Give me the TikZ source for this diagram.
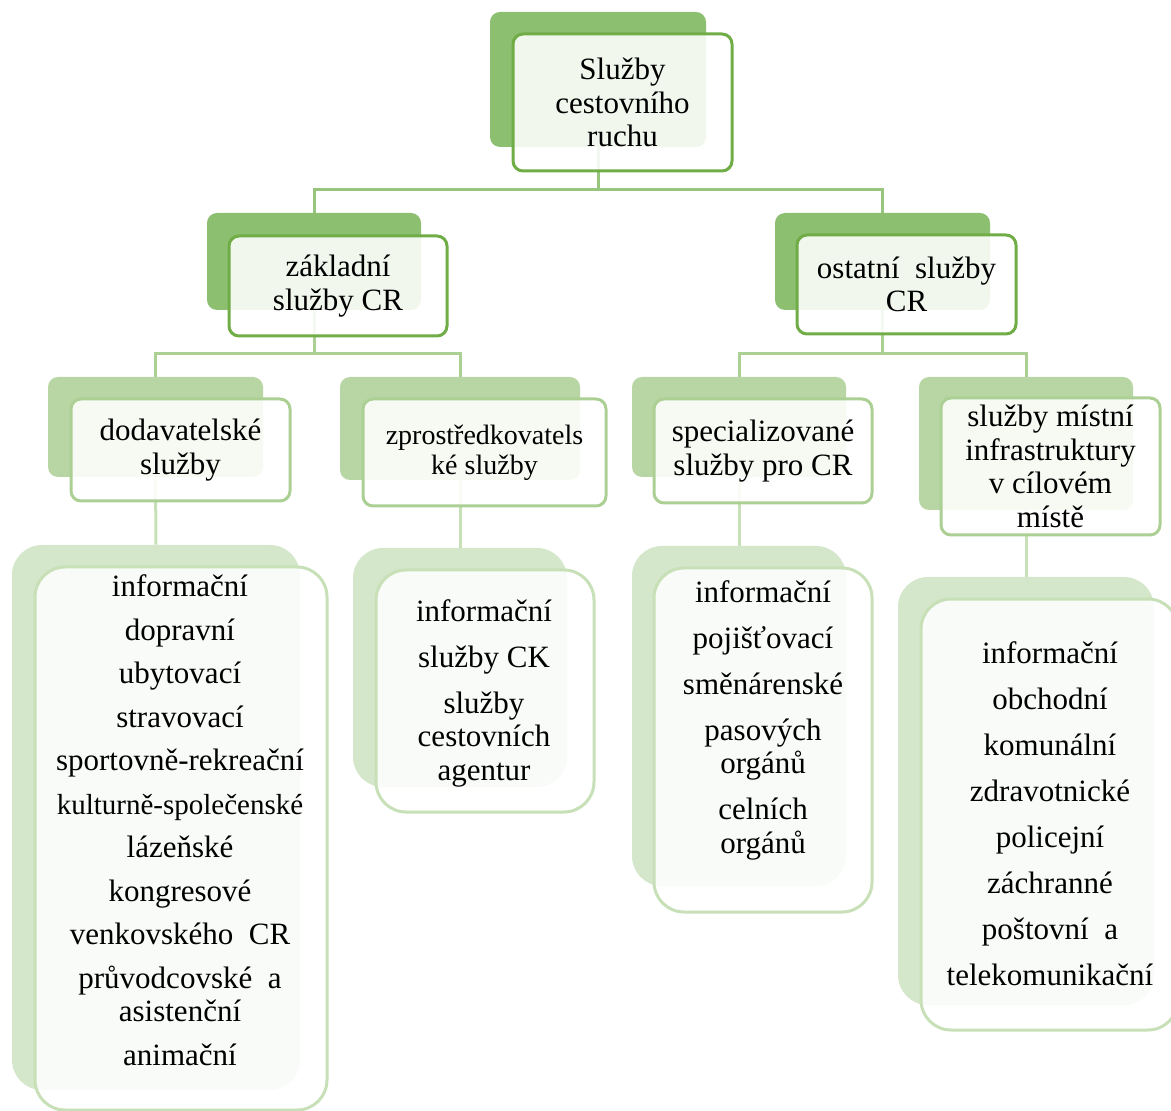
\documentclass[tikz,border=0pt]{standalone}
\usepackage{fontspec}
\setmainfont{Liberation Serif}
\definecolor{grnA}{RGB}{141,191,112}
\definecolor{grnAline}{RGB}{112,173,71}
\definecolor{grnB}{RGB}{184,214,164}
\definecolor{grnBline}{RGB}{172,208,148}
\definecolor{grnC}{RGB}{213,231,203}
\definecolor{grnCline}{RGB}{199,224,183}
\begin{document}
\begin{tikzpicture}[x=0.5pt,y=-0.5pt,
  wh/.style 2 args={minimum width=#1*0.5pt, minimum height=#2*0.5pt},
  txt/.style={align=center, font=\fontsize{15.5}{16.75}\selectfont},
  backA/.style={fill=grnA, rounded corners=5pt, inner sep=0pt},
  backB/.style={fill=grnB, rounded corners=5pt, inner sep=0pt},
  backC/.style={fill=grnC, rounded corners=15pt, inner sep=0pt},
  frontA/.style={txt, draw=grnAline, line width=1.5pt, fill=white, fill opacity=0.88, text opacity=1, rounded corners=5pt, inner sep=0pt},
  frontB/.style={txt, draw=grnBline, line width=1.5pt, fill=white, fill opacity=0.88, text opacity=1, rounded corners=5pt, inner sep=0pt},
  frontC/.style={draw=grnCline, line width=1.5pt, fill=white, fill opacity=0.85, rounded corners=15pt, inner sep=0pt},
  link/.style={line width=1.5pt},
]
\useasboundingbox (0,0) rectangle (1171,1111);

% back boxes
\node[backA, wh={216}{135}] (sluzby) at (598,79.5) {};
\node[backA, wh={214}{97}] (zakl) at (314,261.5) {};
\node[backA, wh={215}{97}] (ostat) at (882.5,261.5) {};
\node[backB, wh={215}{100}] (dodav) at (155.5,427) {};
\node[backB, wh={240}{103}] (zprost) at (460,428.5) {};
\node[backB, wh={214}{100}] (spec) at (739,427) {};
\node[backB, wh={214}{133}] (mistni) at (1026,443.5) {};
\node[backC, wh={288}{545}] (dodavL) at (156,817.5) {};
\node[backC, wh={214}{239}] (zprostL) at (460,667.5) {};
\node[backC, wh={214}{340}] (specL) at (739,716) {};
\node[backC, wh={256}{428}] (mistniL) at (1026,791) {};

% connectors
\coordinate (bus1) at (598,190);
\coordinate (bus2) at (314,354);
\coordinate (bus3) at (882.5,354);
\draw[link, grnA!90] (sluzby.south) -- (bus1) -| (zakl.north);
\draw[link, grnA!90] (bus1) -| (ostat.north);
\draw[link, grnBline] (zakl.south) -- (bus2) -| (dodav.north);
\draw[link, grnBline] (bus2) -| (zprost.north);
\draw[link, grnBline] (ostat.south) -- (bus3) -| (spec.north);
\draw[link, grnBline] (bus3) -| (mistni.north);
\draw[link, grnCline] (dodav.south) -- (dodavL.north);
\draw[link, grnCline] (zprost.south) -- (zprostL.north);
\draw[link, grnCline] (spec.south) -- (specL.north);
\draw[link, grnCline] (mistni.south) -- (mistniL.north);

% front boxes
\node[frontA, wh={219}{137}] (sluzbyF) at (622.5,102.5) {Služby\\cestovního\\ruchu};
\node[frontA, wh={218}{100}] (zaklF) at (338,286) {základní\\služby CR};
\node[frontA, wh={219}{99}] (ostatF) at (906.5,284.5) {ostatní~~služby\\CR};
\node[frontB, wh={219}{102}] (dodavF) at (180.5,450) {dodavatelské\\služby};
\node[frontB, wh={243}{107}, font=\fontsize{14}{15}\selectfont] (zprostF) at (484.5,452.5) {zprostředkovatels\\ké služby};
\node[frontB, wh={218}{104}] (specF) at (763,451) {specializované\\služby pro CR};
\node[frontB, wh={219}{137}] (mistniF) at (1050.5,466.5) {služby místní\\infrastruktury\\v cílovém\\místě};
\node[frontC, wh={292}{543}] (dodavLF) at (181,838.5) {};
\node[frontC, wh={218}{242}] (zprostLF) at (485,691) {};
\node[frontC, wh={218}{344}] (specLF) at (763,740) {};
\node[frontC, wh={257}{431}] (mistniLF) at (1049.5,814.5) {};

% lists
\node[txt] (dodavT) at (180,820) {informační\\[5pt] dopravní\\[5pt] ubytovací\\[5pt] stravovací\\[5pt]
  sportovně-rekreační\\[5pt] {\fontsize{14.5}{16.75}\selectfont kulturně-společenské}\\[5pt] lázeňské\\[5pt]
  kongresové\\[5pt] venkovského~~CR\\[5pt] průvodcovské~~a\\asistenční\\[5pt] animační};
\node[txt] (zprostT) at (484,693) {informační\\[6.25pt] služby CK\\[6.25pt] služby\\cestovních\\agentur};
\node[txt] (specT) at (763,720) {informační\\[6.25pt] pojišťovací\\[6.25pt] směnárenské\\[6.25pt]
  pasových\\orgánů\\[6.25pt] celních\\orgánů};
\node[txt] (mistniT) at (1050,814) {informační\\[6.25pt] obchodní\\[6.25pt] komunální\\[6.25pt] zdravotnické\\[6.25pt]
  policejní\\[6.25pt] záchranné\\[6.25pt] poštovní~~a\\[6.25pt] telekomunikační};
\end{tikzpicture}
\end{document}
